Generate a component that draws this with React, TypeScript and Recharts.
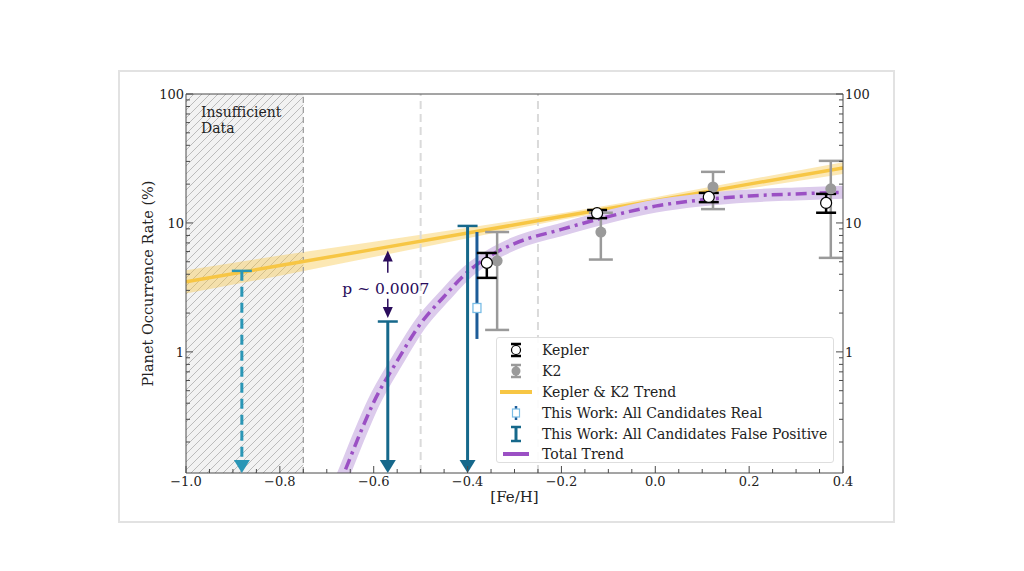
import React from 'react';
import {
  ComposedChart,
  Line,
  Area,
  Scatter,
  ErrorBar,
  XAxis,
  YAxis,
  ReferenceArea,
  ReferenceLine,
} from 'recharts';

const FONT = '"DejaVu Serif", serif';
const AXIS = '#4a4a4a';
const Y_MIN = 0.115;
const Y_MAX = 100;

// Kepler & K2 trend (yellow) and its uncertainty band
const trendX = [-1.0, -0.8, -0.6, -0.4, -0.2, 0.0, 0.2, 0.4];
const trendMid = [3.49, 4.67, 6.24, 8.35, 11.2, 14.9, 20.0, 26.7];
const trendLo = [2.84, 3.89, 5.44, 7.61, 10.6, 14.1, 18.5, 24.0];
const trendHi = [4.29, 5.6, 7.16, 9.16, 11.9, 15.8, 21.7, 29.6];

// total trend (purple, dash-dot)
const totalX = [-0.68, -0.665, -0.63, -0.6, -0.55, -0.5, -0.45, -0.4, -0.35, -0.3, -0.2, -0.1, 0.0, 0.1, 0.2, 0.3, 0.4];
const totalY = [0.083, 0.111, 0.229, 0.407, 0.851, 1.66, 2.69, 4.17, 5.62, 6.92, 8.91, 11.2, 13.5, 15.1, 16.2, 16.8, 17.3];

// Kepler points
const keplerX = [-0.359, -0.124, 0.114, 0.364];
const keplerY = [4.9, 11.9, 15.9, 14.3];
const keplerLo = [3.75, 10.9, 14.5, 12.0];
const keplerHi = [5.85, 12.6, 17.1, 16.8];

// K2 points
const k2X = [-0.337, -0.116, 0.123, 0.374];
const k2Y = [5.08, 8.5, 19.0, 18.4];
const k2Lo = [1.48, 5.2, 12.8, 5.36];
const k2Hi = [8.5, 12.0, 24.9, 30.3];

// This Work: all candidates real
const realX = [-0.38];
const realY = [2.19];
const realLo = [1.26];
const realHi = [8.5];

// This Work: all candidates false positive (upper limits)
const fpX = [-0.57, -0.4];
const fpTop = [1.72, 9.48];
const insuffX = [-0.881];
const insuffTop = [4.25];

// p-value annotation
const pX = -0.57;
const pUpTip = 6.1;
const pUpBase = 4.1;
const pDownBase = 2.58;
const pDownTip = 1.83;
const pTextY = 3.08;

const xTicks = Array.from({ length: 29 }, (_, i) => Math.round((-1 + i * 0.05) * 100) / 100);
const yMajor = [1, 10, 100];
const yTicks = [0.1, 1, 10]
  .flatMap((d) => [2, 3, 4, 5, 6, 7, 8, 9].map((m) => +(d * m).toPrecision(2)))
  .concat(yMajor)
  .sort((a, b) => a - b);

const trendData = trendX.map((x, i) => ({ x, y: trendMid[i], band: [trendLo[i], trendHi[i]] }));
const totalData = totalX.map((x, i) => ({ x, y: totalY[i] }));
const withErr = (xs: number[], ys: number[], lo: number[], hi: number[]) =>
  xs.map((x, i) => ({ x, y: ys[i], err: [ys[i] - lo[i], hi[i] - ys[i]] }));
const keplerData = withErr(keplerX, keplerY, keplerLo, keplerHi);
const k2Data = withErr(k2X, k2Y, k2Lo, k2Hi);
const realData = withErr(realX, realY, realLo, realHi);
const fpCaps = fpX.map((x, i) => ({ x, y: fpTop[i] }));
const fpHeads = fpX.map((x) => ({ x, y: Y_MIN }));
const insuffCaps = insuffX.map((x, i) => ({ x, y: insuffTop[i] }));
const insuffHeads = insuffX.map((x) => ({ x, y: Y_MIN }));

const FP = '#16688b';
const FP_LIGHT = '#2a96b6';
const PURPLE = '#9b50c4';
const YELLOW = '#f7c644';
const K2 = '#9a9a9a';
const P_COL = '#2a0c5c';

const fmtX = (v: number) => {
  const s = Math.abs(v).toFixed(1);
  return v < 0 ? '\u2212' + s : s;
};

const XTick = (props: any) => {
  const { x, y, payload } = props;
  const idx = Math.round((payload.value + 1) / 0.05);
  const major = idx % 4 === 0;
  return (
    <g>
      <line x1={x} x2={x} y1={y} y2={y - (major ? 7 : 4)} stroke={AXIS} strokeWidth={1} />
      {major && (
        <text x={x} y={y + 13} textAnchor="middle" fontSize={13} fontFamily={FONT} fill="#222">
          {fmtX(payload.value)}
        </text>
      )}
    </g>
  );
};

const makeYTick = (side: 'left' | 'right') => (props: any) => {
  const { x, y, payload } = props;
  const major = yMajor.includes(payload.value);
  const len = major ? 7 : 4;
  const dir = side === 'left' ? 1 : -1;
  return (
    <g>
      <line x1={x} x2={x + dir * len} y1={y} y2={y} stroke={AXIS} strokeWidth={1} />
      {major && (
        <text
          x={side === 'left' ? x - 2 : x + 2}
          y={y + 5}
          textAnchor={side === 'left' ? 'end' : 'start'}
          fontSize={13}
          fontFamily={FONT}
          fill="#222"
        >
          {payload.value}
        </text>
      )}
    </g>
  );
};

const LegendIcon = ({ kind }: { kind: string }) => (
  <svg width={34} height={18} style={{ display: 'block' }}>
    {kind === 'kepler' && (
      <g>
        <line x1={17} x2={17} y1={3} y2={15} stroke="#000" strokeWidth={2.5} />
        <line x1={12} x2={22} y1={3} y2={3} stroke="#000" strokeWidth={2.5} />
        <line x1={12} x2={22} y1={15} y2={15} stroke="#000" strokeWidth={2.5} />
        <circle cx={17} cy={9} r={4.5} fill="#fff" stroke="#000" strokeWidth={1.2} />
      </g>
    )}
    {kind === 'k2' && (
      <g>
        <line x1={17} x2={17} y1={3} y2={15} stroke={K2} strokeWidth={2.5} />
        <line x1={12} x2={22} y1={3} y2={3} stroke={K2} strokeWidth={2.5} />
        <line x1={12} x2={22} y1={15} y2={15} stroke={K2} strokeWidth={2.5} />
        <circle cx={17} cy={9} r={4.5} fill={K2} />
      </g>
    )}
    {kind === 'trend' && <line x1={1} x2={33} y1={9} y2={9} stroke={YELLOW} strokeWidth={4} />}
    {kind === 'real' && (
      <g>
        <line x1={17} x2={17} y1={2} y2={16} stroke="#1d5c98" strokeWidth={2.5} />
        <rect x={13.5} y={5} width={7} height={8} fill="#fff" stroke="#7bbde6" strokeWidth={1.2} />
      </g>
    )}
    {kind === 'fp' && (
      <g>
        <line x1={17} x2={17} y1={2} y2={16} stroke={FP} strokeWidth={3} />
        <line x1={12} x2={22} y1={2} y2={2} stroke={FP} strokeWidth={2.5} />
        <line x1={12} x2={22} y1={16} y2={16} stroke={FP} strokeWidth={2.5} />
      </g>
    )}
    {kind === 'total' && <line x1={4} x2={30} y1={9} y2={9} stroke={PURPLE} strokeWidth={4} />}
  </svg>
);

const legendItems = [
  { kind: 'kepler', label: 'Kepler' },
  { kind: 'k2', label: 'K2' },
  { kind: 'trend', label: 'Kepler & K2 Trend' },
  { kind: 'real', label: 'This Work: All Candidates Real' },
  { kind: 'fp', label: 'This Work: All Candidates False Positive' },
  { kind: 'total', label: 'Total Trend' },
];

export default function App() {
  return (
    <div style={{ position: 'absolute', left: 0, top: 0, width: 1024, height: 571, background: '#fff' }}>
      <svg width={0} height={0} style={{ position: 'absolute' }}>
        <defs>
          <pattern id="hatch" patternUnits="userSpaceOnUse" width={8} height={8}>
            <rect width={8} height={8} fill="#f2f2f2" />
            <path d="M-2,2 L2,-2 M0,8 L8,0 M6,10 L10,6" stroke="#bbbbbb" strokeWidth={1} />
          </pattern>
        </defs>
      </svg>
      <div
        style={{
          position: 'absolute',
          left: 118,
          top: 70,
          width: 773,
          height: 449,
          border: '2px solid #e2e2e2',
        }}
      />
      <div style={{ position: 'absolute', left: 0, top: 0 }}>
        <ComposedChart width={1024} height={571} margin={{ top: 94, right: 141, bottom: 68, left: 146 }}>
          <XAxis
            dataKey="x"
            type="number"
            domain={[-1, 0.4]}
            allowDataOverflow
            ticks={xTicks}
            interval={0}
            tick={<XTick />}
            tickLine={false}
            tickSize={0}
            tickMargin={0}
            height={30}
            stroke={AXIS}
            label={{ value: '[Fe/H]', position: 'insideBottom', offset: 1, fontSize: 15, fontFamily: FONT, fill: '#222' }}
          />
          <YAxis
            type="number"
            scale="log"
            domain={[Y_MIN, Y_MAX]}
            allowDataOverflow
            ticks={yTicks}
            interval={0}
            tick={makeYTick('left')}
            tickLine={false}
            tickSize={0}
            tickMargin={0}
            width={40}
            stroke={AXIS}
            label={{
              value: 'Planet Occurrence Rate (%)',
              angle: -90,
              position: 'insideLeft',
              offset: 2,
              style: { textAnchor: 'middle' },
              fontSize: 14.5,
              fontFamily: FONT,
              fill: '#222',
            }}
          />
          <YAxis
            yAxisId="r"
            orientation="right"
            type="number"
            scale="log"
            domain={[Y_MIN, Y_MAX]}
            allowDataOverflow
            ticks={yTicks}
            interval={0}
            tick={makeYTick('right')}
            tickLine={false}
            tickSize={0}
            tickMargin={0}
            width={40}
            stroke={AXIS}
          />
          <ReferenceArea x1={-1} x2={-0.75} fill="url(#hatch)" fillOpacity={1} stroke="none" />
          <ReferenceLine x={-0.75} stroke="#9a9a9a" strokeWidth={1.2} strokeDasharray="6 4" />
          <ReferenceLine x={-0.5} stroke="#dadada" strokeWidth={2} strokeDasharray="8 5" />
          <ReferenceLine x={-0.25} stroke="#dadada" strokeWidth={2} strokeDasharray="8 5" />
          <ReferenceLine y={Y_MAX} stroke={AXIS} strokeWidth={1} />
          <ReferenceArea
            x1={-1}
            x2={-0.76}
            y1={60}
            y2={Y_MAX}
            fill="none"
            stroke="none"
            label={{
              position: 'insideTopLeft',
              content: (p: any) => (
                <text x={p.viewBox.x + 15} y={p.viewBox.y + 23} fontSize={14} fontFamily={FONT} fill="#222">
                  <tspan x={p.viewBox.x + 15}>Insufficient</tspan>
                  <tspan x={p.viewBox.x + 15} dy={16}>Data</tspan>
                </text>
              ),
            }}
          />

          <Area
            data={trendData}
            dataKey="band"
            type="linear"
            fill={YELLOW}
            fillOpacity={0.4}
            stroke="none"
            isAnimationActive={false}
          />
          <Line
            data={trendData}
            dataKey="y"
            type="linear"
            stroke={YELLOW}
            strokeWidth={3.5}
            dot={false}
            isAnimationActive={false}
          />
          <Line
            data={totalData}
            dataKey="y"
            type="monotone"
            stroke="#dccbec"
            strokeWidth={13}
            dot={false}
            isAnimationActive={false}
          />
          <Line
            data={totalData}
            dataKey="y"
            type="monotone"
            stroke={PURPLE}
            strokeWidth={3.5}
            strokeDasharray="11 5 3 5"
            dot={false}
            isAnimationActive={false}
          />

          {fpX.map((x, i) => (
            <ReferenceLine
              key={'fp' + i}
              segment={[{ x, y: fpTop[i] }, { x, y: Y_MIN * 1.1 }]}
              stroke={FP}
              strokeWidth={3}
            />
          ))}
          {insuffX.map((x, i) => (
            <ReferenceLine
              key={'in' + i}
              segment={[{ x, y: insuffTop[i] }, { x, y: Y_MIN * 1.1 }]}
              stroke={FP_LIGHT}
              strokeWidth={3}
              strokeDasharray="10 6"
            />
          ))}
          <ReferenceLine segment={[{ x: pX, y: pUpBase }, { x: pX, y: pUpTip * 0.92 }]} stroke={P_COL} strokeWidth={1.5} />
          <ReferenceLine segment={[{ x: pX, y: pDownBase }, { x: pX, y: pDownTip * 1.1 }]} stroke={P_COL} strokeWidth={1.5} />

          <Scatter
            data={fpCaps}
            dataKey="y"
            isAnimationActive={false}
            shape={(p: any) => <line x1={p.cx - 10} x2={p.cx + 10} y1={p.cy} y2={p.cy} stroke={FP} strokeWidth={2.5} />}
          />
          <Scatter
            data={fpHeads}
            dataKey="y"
            isAnimationActive={false}
            shape={(p: any) => (
              <path d={`M${p.cx - 8},${p.cy - 13} L${p.cx + 8},${p.cy - 13} L${p.cx},${p.cy} Z`} fill={FP} />
            )}
          />
          <Scatter
            data={insuffCaps}
            dataKey="y"
            isAnimationActive={false}
            shape={(p: any) => <line x1={p.cx - 10} x2={p.cx + 10} y1={p.cy} y2={p.cy} stroke={FP_LIGHT} strokeWidth={2.5} />}
          />
          <Scatter
            data={insuffHeads}
            dataKey="y"
            isAnimationActive={false}
            shape={(p: any) => (
              <path d={`M${p.cx - 8},${p.cy - 13} L${p.cx + 8},${p.cy - 13} L${p.cx},${p.cy} Z`} fill={FP_LIGHT} />
            )}
          />
          <Scatter
            data={[{ x: pX, y: pUpTip }]}
            dataKey="y"
            isAnimationActive={false}
            shape={(p: any) => (
              <path d={`M${p.cx - 5},${p.cy + 11} L${p.cx + 5},${p.cy + 11} L${p.cx},${p.cy} Z`} fill={P_COL} />
            )}
          />
          <Scatter
            data={[{ x: pX, y: pDownTip }]}
            dataKey="y"
            isAnimationActive={false}
            shape={(p: any) => (
              <path d={`M${p.cx - 5},${p.cy - 11} L${p.cx + 5},${p.cy - 11} L${p.cx},${p.cy} Z`} fill={P_COL} />
            )}
          />
          <Scatter
            data={[{ x: pX, y: pTextY }]}
            dataKey="y"
            isAnimationActive={false}
            shape={(p: any) => (
              <text x={p.cx - 2} y={p.cy + 5} textAnchor="middle" fontSize={15.5} fontFamily={FONT} fill={P_COL}>
                p ~ 0.0007
              </text>
            )}
          />

          <Scatter
            data={realData}
            dataKey="y"
            isAnimationActive={false}
            shape={(p: any) => (
              <rect x={p.cx - 4} y={p.cy - 4.5} width={8} height={9} fill="#fff" stroke="#7bbde6" strokeWidth={1.3} />
            )}
          >
            <ErrorBar dataKey="err" direction="y" width={0} stroke="#1d5c98" strokeWidth={3} />
          </Scatter>
          <Scatter
            data={k2Data}
            dataKey="y"
            isAnimationActive={false}
            shape={(p: any) => <circle cx={p.cx} cy={p.cy} r={5.5} fill={K2} />}
          >
            <ErrorBar dataKey="err" direction="y" width={12} stroke={K2} strokeWidth={2.5} />
          </Scatter>
          <Scatter
            data={keplerData}
            dataKey="y"
            isAnimationActive={false}
            shape={(p: any) => <circle cx={p.cx} cy={p.cy} r={5.5} fill="#fff" stroke="#000" strokeWidth={1.2} />}
          >
            <ErrorBar dataKey="err" direction="y" width={10} stroke="#000" strokeWidth={2.5} />
          </Scatter>
        </ComposedChart>
      </div>
      <div
        style={{
          position: 'absolute',
          left: 496,
          top: 337,
          width: 338,
          height: 126,
          border: '1px solid #dedede',
          borderRadius: 3,
          background: 'rgba(255,255,255,0.9)',
          fontFamily: FONT,
          fontSize: 14,
          color: '#222',
          boxSizing: 'border-box',
          paddingTop: 2,
        }}
      >
        {legendItems.map((it) => (
          <div key={it.kind} style={{ display: 'flex', alignItems: 'center', height: 20.8 }}>
            <div style={{ width: 34, marginLeft: 2, marginRight: 9 }}>
              <LegendIcon kind={it.kind} />
            </div>
            <span style={{ whiteSpace: 'nowrap' }}>{it.label}</span>
          </div>
        ))}
      </div>
    </div>
  );
}
